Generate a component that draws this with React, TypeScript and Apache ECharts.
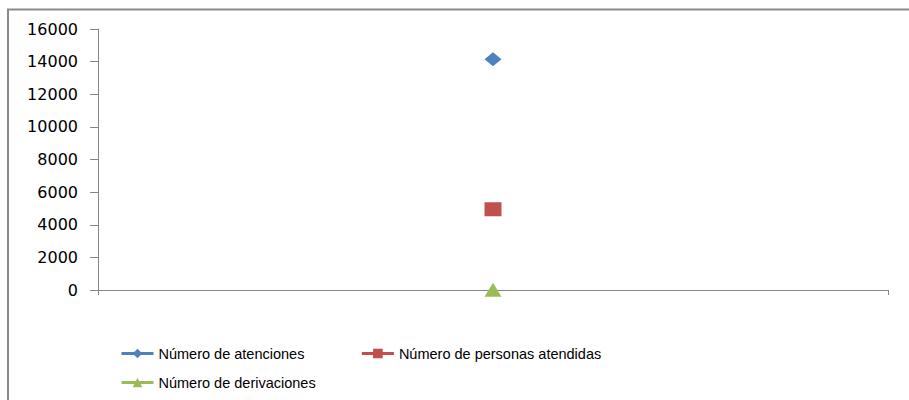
import React, { useEffect, useRef } from "react";
import * as echarts from "echarts";

const categories = [""];
const seriesNames = [
  "Número de atenciones",
  "Número de personas atendidas",
  "Número de derivaciones",
];
const atenciones = [14150];
const personasAtendidas = [4950];
const derivaciones = [20];
const yTicks = { min: 0, max: 16000, interval: 2000 };

const COLORS = ["#4F81BD", "#C0504D", "#9BBB59"];

export default function App() {
  const ref = useRef<HTMLDivElement>(null);
  useEffect(() => {
    if (!ref.current) return;
    const chart = echarts.init(ref.current, undefined, { renderer: "svg" });
    const axisGray = "#868686";
    const legendText = {
      fontFamily: "Liberation Sans, Arial, sans-serif",
      fontSize: 14.5,
      color: "#000",
    };
    const legendCommon = {
      orient: "horizontal",
      left: 120,
      padding: 0,
      itemWidth: 32,
      itemHeight: 12,
      textStyle: legendText,
      lineStyle: { width: 3 },
    };
    chart.setOption({
      animation: false,
      backgroundColor: "#fff",
      graphic: [
        {
          type: "rect",
          shape: { x: 8, y: 9.5, width: 1000, height: 500 },
          style: { fill: "none", stroke: "#8a8a8a", lineWidth: 2 },
          silent: true,
        },
      ],
      grid: { left: 98, right: 21, top: 29, bottom: 110 },
      legend: [
        {
          ...legendCommon,
          data: [seriesNames[0], seriesNames[1]],
          top: 346,
          itemGap: 56,
        },
        {
          ...legendCommon,
          data: [seriesNames[2]],
          top: 375,
        },
      ],
      xAxis: {
        type: "category",
        data: categories,
        boundaryGap: true,
        axisLine: { show: true, lineStyle: { color: axisGray, width: 1 } },
        axisTick: { show: true, length: 5, lineStyle: { color: axisGray } },
        axisLabel: { show: false },
        splitLine: { show: false },
      },
      yAxis: {
        type: "value",
        min: yTicks.min,
        max: yTicks.max,
        interval: yTicks.interval,
        axisLine: { show: true, lineStyle: { color: axisGray, width: 1 } },
        axisTick: { show: true, length: 8, lineStyle: { color: axisGray } },
        axisLabel: {
          margin: 20,
          fontFamily: "DejaVu Sans, sans-serif",
          fontSize: 16,
          color: "#000",
          formatter: (v: number) => String(v),
        },
        splitLine: { show: false },
      },
      series: [
        {
          name: seriesNames[0],
          type: "line",
          data: atenciones,
          symbol: "diamond",
          symbolSize: [17, 14],
          itemStyle: { color: COLORS[0] },
          lineStyle: { color: COLORS[0], width: 3 },
        },
        {
          name: seriesNames[1],
          type: "line",
          data: personasAtendidas,
          symbol: "rect",
          symbolSize: [17, 14],
          itemStyle: { color: COLORS[1] },
          lineStyle: { color: COLORS[1], width: 3 },
        },
        {
          name: seriesNames[2],
          type: "line",
          data: derivaciones,
          symbol: "triangle",
          symbolSize: [17, 14],
          itemStyle: { color: COLORS[2] },
          lineStyle: { color: COLORS[2], width: 3 },
        },
      ],
    });
    return () => chart.dispose();
  }, []);
  return (
    <div
      ref={ref}
      style={{ position: "fixed", left: 0, top: 0, width: 909, height: 400 }}
    />
  );
}
